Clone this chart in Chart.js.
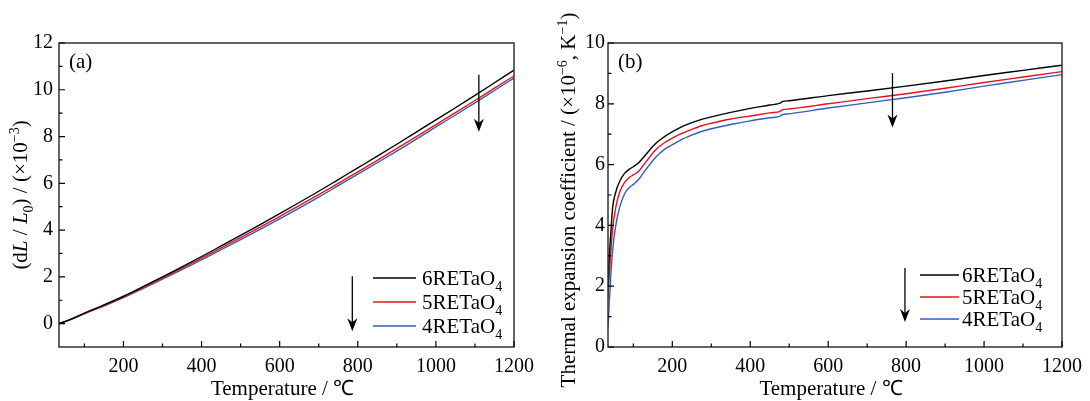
<!DOCTYPE html>
<html><head><meta charset="utf-8">
<script src="https://cdn.jsdelivr.net/npm/chart.js@4.4.0/dist/chart.umd.min.js"></script>
<style>
body{margin:0;background:#fff;}
#wrap{position:relative;width:1090px;height:401px;overflow:hidden;}
canvas{position:absolute;top:0;}
</style>
</head><body>
<div id="wrap">
<canvas id="ca" width="545" height="401" style="left:0"></canvas>
<canvas id="cb" width="545" height="401" style="left:545px"></canvas>
</div>
<script>
// ---------- data ----------
const seriesLabels = ['6RETaO₄', '5RETaO₄', '4RETaO₄'];
const seriesColors = ['#000000', '#e3141b', '#2f5fbf'];

const tempA = [35,60,100,150,200,250,300,350,400,450,500,550,600,650,700,750,800,850,900,950,1000,1050,1100,1150,1200];
const dl6 = [0,0.15,0.45,0.8,1.17,1.58,2.0,2.43,2.87,3.32,3.77,4.23,4.70,5.18,5.66,6.16,6.66,7.16,7.67,8.19,8.71,9.23,9.76,10.30,10.84];
const dl5 = [0,0.15,0.44,0.78,1.14,1.54,1.95,2.37,2.8,3.24,3.68,4.13,4.58,5.05,5.52,6.0,6.49,6.98,7.49,8.0,8.51,9.02,9.54,10.07,10.59];
const dl4 = [0,0.14,0.42,0.75,1.11,1.5,1.9,2.31,2.73,3.16,3.59,4.03,4.48,4.94,5.41,5.9,6.39,6.88,7.38,7.89,8.41,8.92,9.44,9.97,10.5];

const tempB = [35,38,42,47,55,65,78,90,100,113,130,158,180,193,220,250,273,300,350,400,450,478,482,500,600,700,800,900,1000,1100,1200];
const cte6 = [2.0,2.9,3.7,4.6,5.1,5.45,5.72,5.85,5.93,6.05,6.3,6.7,6.92,7.03,7.22,7.38,7.48,7.57,7.72,7.85,7.96,8.03,8.07,8.1,8.27,8.42,8.58,8.75,8.93,9.1,9.27];
const cte5 = [1.6,2.3,3.1,3.9,4.6,5.1,5.42,5.58,5.66,5.77,6.05,6.5,6.72,6.82,7.0,7.16,7.27,7.36,7.5,7.6,7.7,7.76,7.8,7.83,8.0,8.17,8.33,8.51,8.7,8.88,9.06];
const cte4 = [0.66,1.4,2.3,3.2,4.0,4.6,5.05,5.25,5.35,5.5,5.8,6.25,6.5,6.6,6.8,6.97,7.08,7.18,7.32,7.44,7.54,7.6,7.64,7.67,7.86,8.03,8.2,8.38,8.58,8.77,8.96];

const xTicks = [200,400,600,800,1000,1200];
const yTicksA = [0,2,4,6,8,10,12];
const yTicksB = [0,2,4,6,8,10];

const FAM = "'Liberation Serif', 'Times New Roman', serif";

function drawRich(ctx, segs, x, y, size, opts) {
  opts = opts || {};
  ctx.save();
  ctx.translate(x, y);
  if (opts.rotate) ctx.rotate(-Math.PI/2);
  const fontFor = k => (k === 'i' ? 'italic ' : '') + ((k === 'sub' || k === 'sup') ? Math.round(size*0.66) : size) + 'px ' + FAM;
  let w = 0;
  for (const [t,k] of segs) { ctx.font = fontFor(k); w += ctx.measureText(t).width; }
  let cx = opts.align === 'left' ? 0 : -w/2;
  ctx.textBaseline = opts.baseline || 'alphabetic';
  ctx.textAlign = 'left';
  ctx.fillStyle = '#000';
  for (const [t,k] of segs) {
    ctx.font = fontFor(k);
    const dy = k === 'sub' ? size*0.28 : (k === 'sup' ? -size*0.36 : 0);
    ctx.fillText(t, cx, dy);
    cx += ctx.measureText(t).width;
  }
  ctx.restore();
}

function labelSegs(lbl) {
  const out = [];
  for (const ch of lbl) {
    if (ch === '₄') out.push(['4','sub']);
    else if (out.length && out[out.length-1][1] === '') out[out.length-1][0] += ch;
    else out.push([ch, '']);
  }
  return out;
}

function drawArrow(ctx, x, y1, y2) {
  ctx.save();
  ctx.strokeStyle = '#000'; ctx.fillStyle = '#000'; ctx.lineWidth = 1.3;
  ctx.beginPath(); ctx.moveTo(x, y1); ctx.lineTo(x, y2 - 8); ctx.stroke();
  ctx.beginPath(); ctx.moveTo(x - 5, y2 - 13); ctx.lineTo(x, y2 - 9); ctx.lineTo(x + 5, y2 - 13); ctx.lineTo(x, y2); ctx.closePath(); ctx.fill();
  ctx.restore();
}

const decorPlugin = {
  id: 'decor',
  afterDraw(chart, args, o) {
    const ctx = chart.ctx, a = chart.chartArea;
    const xs = chart.scales.x, ys = chart.scales.y;
    ctx.save();
    ctx.strokeStyle = '#333'; ctx.lineWidth = 1.5;
    ctx.strokeRect(a.left, a.top, a.right - a.left, a.bottom - a.top);
    ctx.strokeStyle = '#000'; ctx.lineWidth = 1.2;
    ctx.beginPath();
    const xt = o.xTicks;
    for (let i = 0; i < xt.length; i++) {
      const px = xs.getPixelForValue(xt[i]);
      ctx.moveTo(px, a.bottom); ctx.lineTo(px, a.bottom - 6);
      const mv = xt[i] - (xt[1]-xt[0])/2;
      if (mv > xs.min) { const pm = xs.getPixelForValue(mv); ctx.moveTo(pm, a.bottom); ctx.lineTo(pm, a.bottom - 3.5); }
    }
    const yt = o.yTicks;
    for (let i = 0; i < yt.length; i++) {
      const py = ys.getPixelForValue(yt[i]);
      ctx.moveTo(a.left, py); ctx.lineTo(a.left + 6, py);
      const mv = yt[i] + (yt[1]-yt[0])/2;
      if (mv < ys.max) { const pm = ys.getPixelForValue(mv); ctx.moveTo(a.left, pm); ctx.lineTo(a.left + 3.5, pm); }
    }
    ctx.stroke();
    ctx.restore();
    drawRich(ctx, [[o.panel, '']], a.left + 10, a.top + 19, 21, {align: 'left', baseline: 'middle'});
    for (const ar of o.arrows) {
      drawArrow(ctx, xs.getPixelForValue(ar[0]), ys.getPixelForValue(ar[1]), ys.getPixelForValue(ar[2]));
    }
    const L = o.legend;
    chart.data.datasets.forEach((ds, i) => {
      const y = a.bottom + L.rows[i];
      ctx.save();
      ctx.strokeStyle = ds.borderColor; ctx.lineWidth = 1.5;
      ctx.beginPath(); ctx.moveTo(a.right + L.x1, y); ctx.lineTo(a.right + L.x2, y); ctx.stroke();
      ctx.restore();
      drawRich(ctx, labelSegs(ds.label), a.right + L.tx, y + 7, 21, {align: 'left'});
    });
    drawRich(ctx, o.yTitle, o.yTitleX, o.yTitleY, 21, {rotate: true});
    drawRich(ctx, [['Temperature / ℃', '']], (a.left + a.right)/2 - 4, 395, 21);
  }
};

function makeChart(id, temps, series, yMin, yMax, yTicks, layoutPad, yWidth, decor) {
  return new Chart(document.getElementById(id), {
    type: 'line',
    data: {
      datasets: series.map((s, i) => ({
        label: seriesLabels[i],
        data: temps.map((t, j) => ({x: t, y: s[j]})),
        borderColor: seriesColors[i],
        borderWidth: 1.4,
        pointRadius: 0,
        cubicInterpolationMode: 'monotone',
        fill: false
      }))
    },
    options: {
      responsive: false,
      animation: false,
      events: [],
      layout: {padding: layoutPad},
      plugins: {legend: {display: false}, tooltip: {enabled: false}, decor: decor},
      scales: {
        x: {
          type: 'linear', min: 35, max: 1200,
          afterBuildTicks: s => { s.ticks = xTicks.map(v => ({value: v})); },
          afterFit: s => { s.height = 54; },
          grid: {display: false, drawTicks: false},
          border: {display: false},
          ticks: {color: '#000', font: {family: FAM, size: 20}, padding: 8, maxRotation: 0, autoSkip: false,
                  callback: v => String(v)}
        },
        y: {
          type: 'linear', min: yMin, max: yMax,
          afterBuildTicks: s => { s.ticks = yTicks.map(v => ({value: v})); },
          afterFit: s => { s.width = yWidth; },
          grid: {display: false, drawTicks: false},
          border: {display: false},
          ticks: {color: '#000', font: {family: FAM, size: 20}, padding: decor.yPad, autoSkip: false,
                  callback: v => String(v)}
        }
      }
    },
    plugins: [decorPlugin]
  });
}

makeChart('ca', tempA, [dl6, dl5, dl4], -1, 12, yTicksA, {left: 0, right: 31, top: 43, bottom: 0}, 59, {
  panel: '(a)', xTicks: xTicks, yTicks: yTicksA, yPad: 6,
  arrows: [[1110, 10.64, 8.2], [786, 2.03, -0.33]],
  legend: {x1: -141, x2: -98, tx: -92, rows: [-69, -45, -21]},
  yTitle: [['(d',''],['L','i'],[' / ',''],['L','i'],['0','sub'],[') / (×10',''],['−3','sup'],[')','']],
  yTitleX: 27, yTitleY: 195
});

makeChart('cb', tempB, [cte6, cte5, cte4], 0, 10, yTicksB, {left: 0, right: 27, top: 43, bottom: 0}, 63, {
  panel: '(b)', xTicks: xTicks, yTicks: yTicksB, yPad: 3,
  arrows: [[765, 9.01, 7.22], [797, 2.6, 0.82]],
  legend: {x1: -142, x2: -103, tx: -100, rows: [-72, -50, -28]},
  yTitle: [['Thermal expansion coefficient / (×10',''],['−6','sup'],[', K',''],['−1','sup'],[')','']],
  yTitleX: 30, yTitleY: 200
});
</script>
</body></html>
